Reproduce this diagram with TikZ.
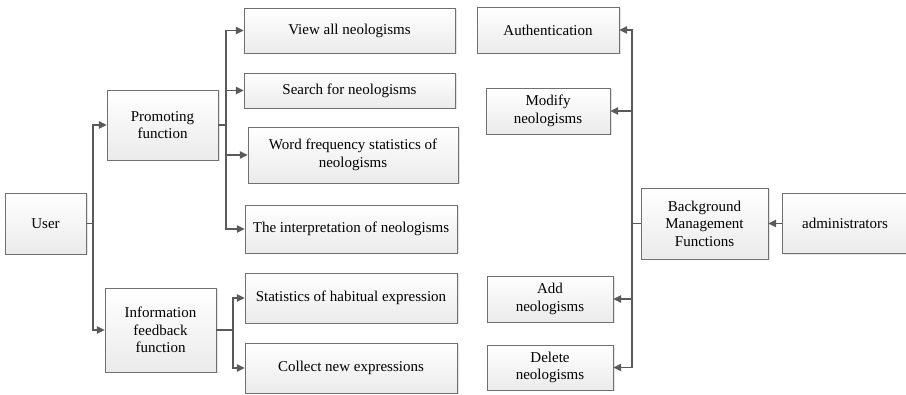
\documentclass[tikz,border=0pt]{standalone}
\usepackage{fontspec}
\setmainfont{Liberation Serif}
\usetikzlibrary{arrows.meta,shadows}
\definecolor{linegray}{RGB}{90,90,90}
\definecolor{boxedge}{RGB}{112,112,112}

\begin{document}
\begin{tikzpicture}[x=1pt,y=-1pt,
    box/.style={rectangle, draw=boxedge, top color=white, bottom color=black!8,
                drop shadow={shadow xshift=1.5pt, shadow yshift=-1.5pt, fill=black!30, opacity=0.35},
                inner sep=2pt, align=center, font=\fontsize{15}{17.5}\selectfont},
    arr/.style={-{Triangle[length=8pt,width=7.5pt]}, line width=1.4pt, linegray},
    lnk/.style={line width=1.4pt, linegray}
]
    \useasboundingbox (0,0) rectangle (906,395);

    % user side
    \node[box, minimum width=81pt, minimum height=61pt] (user) at (45.5,223.5) {User};
    \node[box, minimum width=111pt, minimum height=70pt] (prom) at (162.5,125) {Promoting\\function};
    \node[box, minimum width=111pt, minimum height=84pt] (info) at (160.5,330) {Information\\feedback\\function};

    \node[box, minimum width=211pt, minimum height=45pt] (view) at (349.5,30.5) {View all neologisms};
    \node[box, minimum width=211pt, minimum height=35pt] (search) at (349.5,90.5) {Search for neologisms};
    \node[box, minimum width=210pt, minimum height=56pt] (freq) at (353,155) {Word frequency statistics of\\neologisms};
    \node[box, minimum width=212pt, minimum height=48pt] (interp) at (351,229) {The interpretation of neologisms};
    \node[box, minimum width=212pt, minimum height=50pt] (stat) at (351,298) {Statistics of habitual expression};
    \node[box, minimum width=212pt, minimum height=50pt] (collect) at (351,368) {Collect new expressions};

    % administrator side
    \node[box, minimum width=142pt, minimum height=46pt] (auth) at (548,30) {Authentication};
    \node[box, minimum width=124pt, minimum height=46pt] (modify) at (548,111) {Modify\\neologisms};
    \node[box, minimum width=126pt, minimum height=46pt] (add) at (550,299) {Add\\neologisms};
    \node[box, minimum width=126pt, minimum height=45pt] (delete) at (550,367.5) {Delete\\neologisms};
    \node[box, minimum width=127pt, minimum height=71pt] (back) at (704.5,223.5) {Background\\Management\\Functions};
    \node[box, minimum width=126pt, minimum height=60pt] (admin) at (845,223.5) {administrators};

    % junctions
    \coordinate (uj) at (93,223.5);
    \coordinate (pj) at (226,125);
    \coordinate (ij) at (233,330);
    \coordinate (bj) at (632,223.5);

    \draw[lnk] (user.east) -- (uj);
    \draw[arr] (uj) |- (prom.west);
    \draw[arr] (uj) |- (info.west);

    \draw[lnk] (prom.east) -- (pj);
    \draw[arr] (pj) |- (view.west);
    \draw[arr] (pj) |- (search.west);
    \draw[arr] (pj) |- (freq.west);
    \draw[arr] (pj) |- (interp.west);

    \draw[lnk] (info.east) -- (ij);
    \draw[arr] (ij) |- (stat.west);
    \draw[arr] (ij) |- (collect.west);

    \draw[arr] (admin.west) -- (back.east);
    \draw[lnk] (back.west) -- (bj);
    \draw[arr] (bj) |- (auth.east);
    \draw[arr] (bj) |- (modify.east);
    \draw[arr] (bj) |- (add.east);
    \draw[arr] (bj) |- (delete.east);
\end{tikzpicture}
\end{document}
